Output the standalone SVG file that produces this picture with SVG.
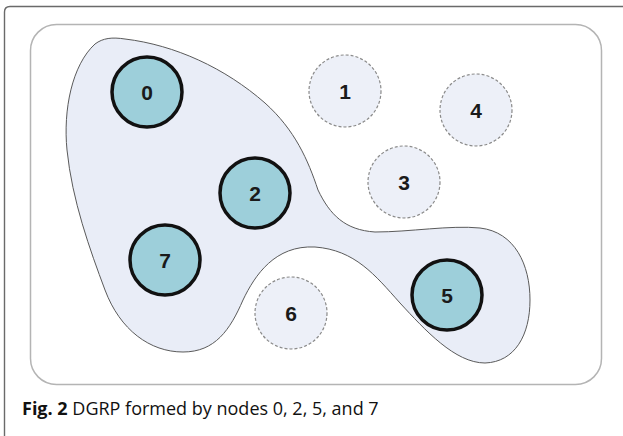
<svg xmlns="http://www.w3.org/2000/svg" width="623" height="436" viewBox="0 0 623 436">
  <style>
    .frame { fill: none; stroke: #6a6a6a; stroke-width: 1.4; }
    .panel { fill: #ffffff; stroke: #b4b4b4; stroke-width: 1.5; }
    .group { fill: #e9edf7; stroke: #5a5a5a; stroke-width: 1; }
    .member circle { fill: #9dcfda; stroke: #111111; stroke-width: 3.5; }
    .other circle { fill: #edf0f8; stroke: #8a8a8a; stroke-width: 1.2; stroke-dasharray: 3 2; }
    .label { font-family: "Liberation Sans", Arial, sans-serif; font-weight: bold; font-size: 21px; fill: #1a1a1a; text-anchor: middle; }
    .caption { font-family: "Open Sans", "Noto Sans", sans-serif; font-size: 18px; fill: #111111; }
  </style>

  <!-- page frame and panel -->
  <path class="frame" d="M4.5,436 V12 Q4.5,6.5 10,6.5 H623"/>
  <rect class="panel" x="30.5" y="24.5" width="571" height="360" rx="26" ry="26"/>

  <!-- DGRP region -->
  <g id="dgrp-region">
    <path class="group" d="M95,44 C103,38 112,37 125,39 C175,45 225,68 265,103 C295,130 308,160 318,190 C330,215 345,230 375,232 C410,232 450,225 480,228 C515,232 530,265 530,300 C530,335 515,362 485,363 C455,363 425,330 400,303 C375,275 355,250 315,247 C275,245 255,275 243,300 C230,330 215,352 183,352 C150,352 120,330 105,290 C90,250 72,200 67,150 C63,110 72,65 95,44 Z"/>
  </g>

  <!-- connectors (none drawn) -->
  <g id="connectors"></g>

  <!-- nodes -->
  <g id="node-0" class="member"><circle cx="147" cy="92" r="35"/><text class="label" x="147" y="99.5">0</text></g>
  <g id="node-2" class="member"><circle cx="255" cy="193" r="35"/><text class="label" x="255" y="200.5">2</text></g>
  <g id="node-7" class="member"><circle cx="165" cy="260" r="35"/><text class="label" x="165" y="267.5">7</text></g>
  <g id="node-5" class="member"><circle cx="447" cy="295" r="35"/><text class="label" x="447" y="302.5">5</text></g>
  <g id="node-1" class="other"><circle cx="345" cy="91" r="36"/><text class="label" x="345" y="98.5">1</text></g>
  <g id="node-4" class="other"><circle cx="476" cy="110" r="36"/><text class="label" x="476" y="117.5">4</text></g>
  <g id="node-3" class="other"><circle cx="404" cy="182" r="36"/><text class="label" x="404" y="189.5">3</text></g>
  <g id="node-6" class="other"><circle cx="291" cy="313" r="36"/><text class="label" x="291" y="320.5">6</text></g>

  <!-- caption -->
  <text class="caption" x="22" y="415"><tspan font-weight="bold">Fig. 2</tspan> DGRP formed by nodes 0, 2, 5, and 7</text>
</svg>
